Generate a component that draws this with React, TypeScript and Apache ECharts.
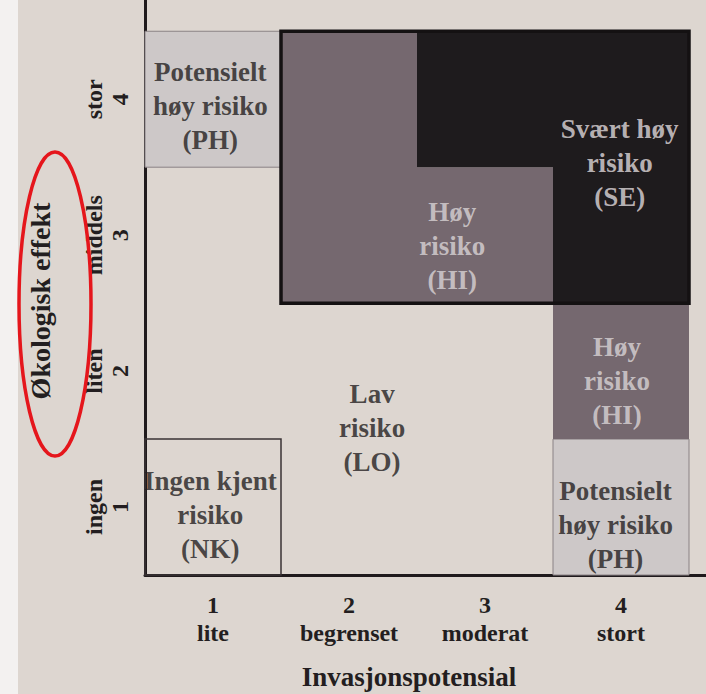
import React, { useEffect, useRef } from "react";
import * as echarts from "echarts";

// Axis categories
const xLevels = ["lite", "begrenset", "moderat", "stort"];
const yLevels = ["ingen", "liten", "middels", "stor"];
const xAxisName = "Invasjonspotensial";
const yAxisName = "Økologisk effekt";

// Risk regions (polygons in data units: invasion potential x, ecological effect y)
const regionCodes = ["PH", "NK", "PH", "HI", "SE", "HI", "OUTLINE"];
const regionPolygons: number[][][] = [
  [[0.5, 3.5], [1.5, 3.5], [1.5, 4.5], [0.5, 4.5]],
  [[0.5, 0.5], [1.5, 0.5], [1.5, 1.5], [0.5, 1.5]],
  [[3.5, 0.5], [4.5, 0.5], [4.5, 1.5], [3.5, 1.5]],
  [[1.5, 2.5], [3.5, 2.5], [3.5, 3.5], [2.5, 3.5], [2.5, 4.5], [1.5, 4.5]],
  [[2.5, 3.5], [3.5, 3.5], [3.5, 2.5], [4.5, 2.5], [4.5, 4.5], [2.5, 4.5]],
  [[3.5, 1.5], [4.5, 1.5], [4.5, 2.5], [3.5, 2.5]],
  [[1.5, 2.5], [4.5, 2.5], [4.5, 4.5], [1.5, 4.5]],
];

// Region labels
const labelTexts = [
  "Potensielt\nhøy risiko\n(PH)",
  "Høy\nrisiko\n(HI)",
  "Svært høy\nrisiko\n(SE)",
  "Lav\nrisiko\n(LO)",
  "Ingen kjent\nrisiko\n(NK)",
  "Høy\nrisiko\n(HI)",
  "Potensielt\nhøy risiko\n(PH)",
];
const labelCodes = ["PH", "HI", "SE", "LO", "NK", "HI", "PH"];
const labelX = [0.98, 2.76, 3.99, 2.17, 0.98, 3.97, 3.96];
const labelY = [3.95, 2.92, 3.53, 1.58, 0.94, 1.93, 0.87];

const fills: Record<string, string> = {
  PH: "#cdc8c8",
  NK: "none",
  HI: "#75686f",
  SE: "#1e1b1d",
  OUTLINE: "none",
};
const strokes: Record<string, [string, number]> = {
  PH: ["#8a8285", 1],
  NK: ["#3a3335", 1.5],
  HI: ["#141112", 0],
  SE: ["#141112", 0],
  OUTLINE: ["#141112", 3.5],
};
const textColors: Record<string, string> = {
  PH: "#231e20",
  NK: "#231e20",
  LO: "#231e20",
  HI: "#dad4d6",
  SE: "#e0dadc",
};

export default function App() {
  const ref = useRef<HTMLDivElement>(null);
  useEffect(() => {
    if (!ref.current) return;
    const chart = echarts.init(ref.current, undefined, { renderer: "svg" });
    const serif = "'Liberation Serif', 'DejaVu Serif', serif";
    const darkText = "#231e20";

    const regionData = regionPolygons.map((poly, i) => {
      const cx = poly.reduce((s, p) => s + p[0], 0) / poly.length;
      const cy = poly.reduce((s, p) => s + p[1], 0) / poly.length;
      return [cx, cy, i];
    });

    const option: any = {
      animation: false,
      backgroundColor: "#ddd6d0",
      grid: { left: 145, right: 0, top: 0, bottom: 119 },
      xAxis: {
        type: "value",
        min: 0.5,
        max: 4.625,
        interval: 0.5,
        splitLine: { show: false },
        axisTick: { show: false },
        axisLine: { show: true, lineStyle: { color: "#1f1a1c", width: 3 } },
        axisLabel: {
          margin: 16,
          fontFamily: serif,
          fontWeight: "bold",
          fontSize: 24,
          lineHeight: 28,
          color: darkText,
          showMaxLabel: false,
          formatter: (v: number) =>
            Number.isInteger(v) && v >= 1 && v <= 4 ? `${v}\n${xLevels[v - 1]}` : "",
        },
      },
      yAxis: {
        type: "value",
        min: 0.5,
        max: 4.73,
        interval: 0.5,
        splitLine: { show: false },
        axisTick: { show: false },
        axisLine: { show: true, lineStyle: { color: "#1f1a1c", width: 3 } },
        axisLabel: {
          rotate: 90,
          margin: 12,
          fontFamily: serif,
          fontWeight: "bold",
          fontSize: 24,
          lineHeight: 26,
          color: darkText,
          showMaxLabel: false,
          formatter: (v: number) =>
            Number.isInteger(v) && v >= 1 && v <= 4 ? `${yLevels[v - 1]}\n${v}` : "",
        },
      },
      series: [
        {
          type: "custom",
          encode: { x: 0, y: 1 },
          data: regionData,
          z: 1,
          renderItem: (params: any, api: any) => {
            const idx = api.value(2);
            const code = regionCodes[idx];
            const pts = regionPolygons[idx].map((p) => api.coord(p));
            const [sc, sw] = strokes[code];
            return {
              type: "polygon",
              shape: { points: pts },
              style: {
                fill: fills[code],
                stroke: sw > 0 ? sc : "none",
                lineWidth: sw,
              },
            };
          },
        },
        {
          type: "scatter",
          symbolSize: 0,
          z: 5,
          data: labelTexts.map((t, i) => ({
            name: t,
            value: [labelX[i], labelY[i]],
            label: { color: textColors[labelCodes[i]] },
          })),
          label: {
            show: true,
            position: "inside",
            formatter: (p: any) => p.name,
            fontFamily: serif,
            fontWeight: "bold",
            fontSize: 27,
            lineHeight: 34,
            align: "center",
            verticalAlign: "middle",
          },
          emphasis: { disabled: true },
        },
      ],
      graphic: [
        { type: "rect", left: 0, top: 0, shape: { width: 18, height: 694 }, style: { fill: "#f3f1f0" }, z: -1 },
        {
          type: "text",
          x: 40,
          y: 301,
          rotation: Math.PI / 2,
          style: {
            text: yAxisName,
            font: `bold 28px ${serif}`,
            fill: darkText,
            textAlign: "center",
            textVerticalAlign: "middle",
          },
        },
        {
          type: "text",
          x: 409,
          y: 677,
          style: {
            text: xAxisName,
            font: `bold 27px ${serif}`,
            fill: darkText,
            textAlign: "center",
            textVerticalAlign: "middle",
          },
        },
        {
          type: "ellipse",
          shape: { cx: 55, cy: 304, rx: 36, ry: 152 },
          style: { fill: "none", stroke: "#e5161c", lineWidth: 3.5 },
          z: 100,
        },
      ],
    };
    chart.setOption(option);
    return () => chart.dispose();
  }, []);
  return (
    <div
      ref={ref}
      style={{ position: "absolute", left: 0, top: 0, width: 706, height: 694 }}
    />
  );
}
